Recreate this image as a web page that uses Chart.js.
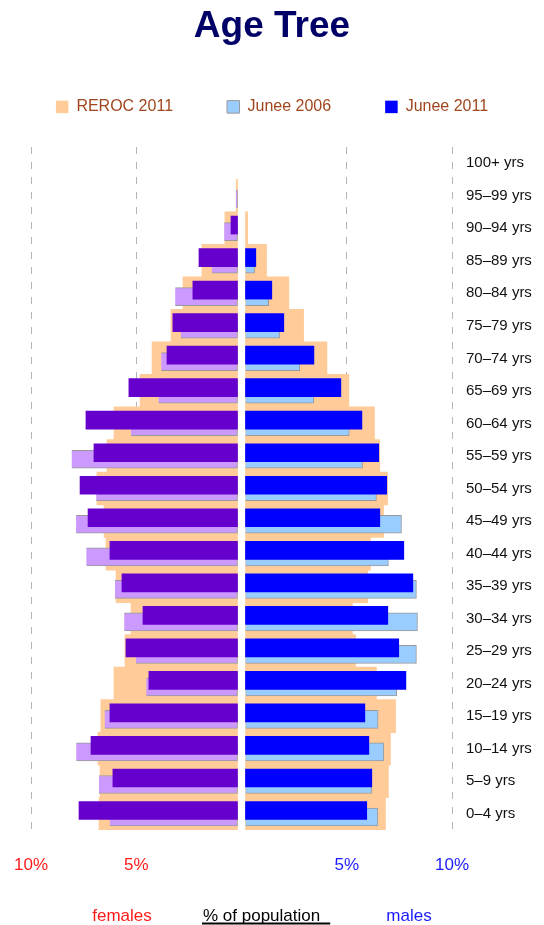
<!DOCTYPE html>
<html>
<head>
<meta charset="utf-8">
<title>Age Tree</title>
<script src="https://cdn.jsdelivr.net/npm/chart.js@4.4.1/dist/chart.umd.min.js"></script>
<style>
  html, body { margin: 0; padding: 0; background: #fff; }
  #wrap { width: 544px; height: 925px; }
</style>
</head>
<body>
<div id="wrap"><canvas id="ageTree" width="544" height="925"></canvas></div>
<script>
// age bands, top of the tree first
const ageGroups = ['100+ yrs', '95–99 yrs', '90–94 yrs', '85–89 yrs', '80–84 yrs', '75–79 yrs',
  '70–74 yrs', '65–69 yrs', '60–64 yrs', '55–59 yrs', '50–54 yrs', '45–49 yrs', '40–44 yrs',
  '35–39 yrs', '30–34 yrs', '25–29 yrs', '20–24 yrs', '15–19 yrs', '10–14 yrs', '5–9 yrs', '0–4 yrs'];

// % of population
const reroc2011F = [0, 0.25, 0.79, 1.88, 2.78, 3.35, 4.25, 4.82, 6.06, 6.39, 6.87, 6.53, 6.44, 5.96, 5.25, 5.54, 6.06, 6.68, 6.82, 6.72, 6.77];
const reroc2011M = [0, 0, 0.29, 1.19, 2.25, 2.95, 4.06, 5.10, 6.32, 6.57, 6.94, 6.75, 6.13, 5.99, 5.27, 5.42, 6.41, 7.32, 7.08, 6.98, 6.84];
const junee2006F = [0, 0.27, 0.82, 1.41, 3.15, 2.88, 3.81, 3.94, 5.25, 8.07, 6.90, 7.86, 7.37, 6.01, 5.57, 5.01, 4.52, 6.50, 7.85, 6.77, 6.26];
const junee2006M = [0, 0, 0, 0.62, 1.29, 1.81, 2.77, 3.44, 5.12, 5.75, 6.41, 7.60, 6.98, 8.31, 8.36, 8.31, 7.38, 6.49, 6.76, 6.18, 6.48];
const junee2011F = [0, 0, 0.50, 2.02, 2.31, 3.26, 3.54, 5.35, 7.39, 7.01, 7.67, 7.29, 6.25, 5.68, 4.68, 5.49, 4.40, 6.25, 7.15, 6.11, 7.72];
const junee2011M = [0, 0, 0, 0.68, 1.44, 2.01, 3.44, 4.72, 5.72, 6.52, 6.90, 6.57, 7.71, 8.14, 6.95, 7.47, 7.81, 5.86, 6.05, 6.19, 5.95];

const xTicks = [-10, -5, 5, 10];

// small white gap down the middle, and the up/down nudge of the two Junee bars inside a row
const GAP = 0.19;
const SHIFT_2011 = -0.1;
const SHIFT_2006 = 0.1;

function females(arr, shift) {
  return arr.map((v, i) => ({ y: i + shift, x: [-v, -GAP] })).filter(p => -p.x[0] > GAP);
}
function males(arr, shift) {
  return arr.map((v, i) => ({ y: i + shift, x: [GAP, v] })).filter(p => p.x[1] > GAP);
}

const FONT = '"Liberation Sans", Arial, Helvetica, sans-serif';

const bottomLabels = {
  id: 'bottomLabels',
  afterDraw(chart) {
    const ctx = chart.ctx;
    ctx.save();
    ctx.font = '17px ' + FONT;
    ctx.textBaseline = 'alphabetic';
    ctx.textAlign = 'center';
    ctx.fillStyle = '#ff1a1a';
    ctx.fillText('females', 122, 921);
    ctx.fillStyle = '#1a1aff';
    ctx.fillText('males', 409, 921);
    ctx.textAlign = 'left';
    ctx.fillStyle = '#000';
    ctx.fillText('% of population', 203, 921);
    const w = ctx.measureText('% of population').width;
    ctx.fillRect(202, 922.5, w + 11, 2);
    ctx.restore();
  }
};

const common = { xAxisID: 'x', yAxisID: 'y', grouped: false };
const darkBar = { ...common, barThickness: 18, borderWidth: 0 };
const lightBar = { ...common, barThickness: 18, borderWidth: 1, borderColor: '#999999' };
const bandBar = { ...common, barThickness: 33, borderWidth: 0 };

new Chart(document.getElementById('ageTree'), {
  type: 'bar',
  data: {
    datasets: [
      { ...darkBar, label: 'Junee 2011', data: females(junee2011F, SHIFT_2011), backgroundColor: '#6600cc' },
      { ...darkBar, label: 'Junee 2011', data: males(junee2011M, SHIFT_2011), backgroundColor: '#0000ff' },
      { ...lightBar, label: 'Junee 2006', data: females(junee2006F, SHIFT_2006), backgroundColor: '#cc99ff', borderSkipped: 'right' },
      { ...lightBar, label: 'Junee 2006', data: males(junee2006M, SHIFT_2006), backgroundColor: '#99ccff', borderSkipped: 'left' },
      { ...bandBar, label: 'REROC 2011', data: females(reroc2011F, 0), backgroundColor: '#ffcc99' },
      { ...bandBar, label: 'REROC 2011', data: males(reroc2011M, 0), backgroundColor: '#ffcc99' }
    ]
  },
  options: {
    indexAxis: 'y',
    responsive: false,
    animation: false,
    events: [],
    layout: { padding: 0 },
    scales: {
      x: {
        type: 'linear',
        position: 'bottom',
        bounds: 'data',
        stacked: false,
        min: -10,
        max: 10,
        afterBuildTicks: scale => { scale.ticks = [-10, -5, 0, 5, 10].map(v => ({ value: v })); },
        afterFit: scale => { scale.height = 95; },
        ticks: {
          padding: 0,
          font: { family: FONT, size: 17 },
          color: c => c.tick && c.tick.value < 0 ? '#ff1a1a' : '#1a1aff',
          callback: v => xTicks.includes(v) ? Math.abs(v) + '%' : ''
        },
        grid: {
          drawTicks: true,
          tickLength: 25,
          tickColor: 'rgba(0,0,0,0)',
          lineWidth: 1,
          color: c => c.tick && xTicks.includes(c.tick.value) ? '#b4b4b4' : 'rgba(0,0,0,0)'
        },
        border: { display: false, dash: [7, 8] }
      },
      y: {
        type: 'linear',
        position: 'right',
        bounds: 'data',
        offset: false,
        reverse: true,
        min: -0.5,
        max: ageGroups.length - 0.5,
        afterBuildTicks: scale => { scale.ticks = ageGroups.map((g, i) => ({ value: i })); },
        afterFit: scale => { scale.width = 92; },
        ticks: {
          padding: 14,
          autoSkip: false,
          font: { family: FONT, size: 15 },
          color: '#111111',
          callback: v => ageGroups[v]
        },
        grid: { display: false, drawTicks: false, offset: false },
        border: { display: false }
      },
      // empty axes, only used to hold space around the plot
      xPad: {
        type: 'linear',
        axis: 'x',
        position: 'top',
        ticks: { display: false },
        grid: { display: false, drawTicks: false },
        border: { display: false },
        afterFit: scale => { scale.height = 22.1; }
      },
      yPad: {
        type: 'linear',
        axis: 'y',
        position: 'left',
        ticks: { display: false },
        grid: { display: false, drawTicks: false },
        border: { display: false },
        afterFit: scale => { scale.width = 31; }
      }
    },
    plugins: {
      title: {
        display: true,
        text: 'Age Tree',
        color: '#000066',
        font: { family: FONT, size: 37, weight: 'bold' },
        padding: { top: 5, bottom: -4.5 }
      },
      legend: {
        display: true,
        position: 'top',
        labels: {
          color: '#a0461e',
          font: { family: FONT, size: 16 },
          boxWidth: 12.5,
          boxHeight: 12.5,
          padding: 54,
          filter: item => item.datasetIndex % 2 === 1,
          sort: (a, b) => b.datasetIndex - a.datasetIndex
        }
      },
      tooltip: { enabled: false }
    }
  },
  plugins: [bottomLabels]
});
</script>
</body>
</html>
